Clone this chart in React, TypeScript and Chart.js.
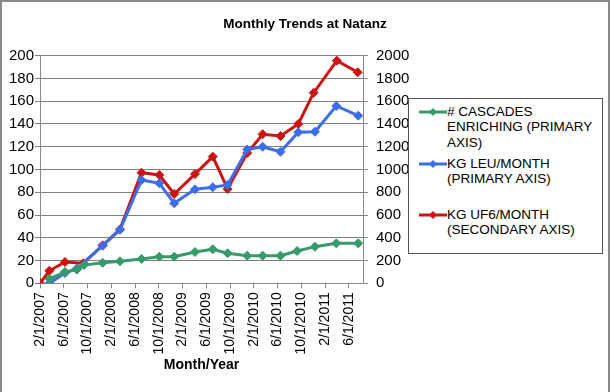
import React, { useEffect, useRef } from 'react';
import { Chart, registerables } from 'chart.js';

Chart.register(...registerables);

// Months elapsed since 2/1/2007
const tickMonths = [0, 4, 8, 12, 16, 20, 24, 28, 32, 36, 40, 44, 48, 52];

const cascadeMonths = [1.6, 4.2, 6.2, 7.4, 10.55, 13.47, 17.1, 20.1, 22.6, 26.1, 29.1, 31.6, 34.9, 37.5, 40.5, 43.3, 46.3, 49.9, 53.6];
const cascadeValues = [4, 10, 12, 16, 18, 19.3, 21.4, 23.4, 23.4, 27.5, 29.9, 26.4, 24.2, 24.3, 24.3, 28.4, 32.2, 35.1, 35.1];

const leuMonths = [1.6, 4.2, 6.2, 10.55, 13.47, 17.1, 20.1, 22.6, 26.1, 29.1, 31.6, 34.9, 37.5, 40.5, 43.5, 46.3, 49.9, 53.6];
const leuValues = [0, 9, 13, 33, 47, 90.8, 87.9, 70.3, 82.6, 84.4, 86.4, 117.6, 120, 115.6, 132.7, 133.2, 155.8, 147.3];

const uf6Months = [0, 1.57, 4.21, 7.29, 10.55, 13.47, 17.1, 20.1, 22.6, 26.1, 29.1, 31.6, 34.9, 37.5, 40.5, 43.5, 46.1, 50, 53.5];
const uf6Values = [0, 110, 187, 176, 334, 474, 972, 952, 785, 960, 1113, 829, 1145, 1310, 1294, 1400, 1675, 1956, 1854];

const seriesNames = ['# CASCADES ENRICHING (PRIMARY AXIS)', 'KG LEU/MONTH (PRIMARY AXIS)', 'KG UF6/MONTH (SECONDARY AXIS)'];
const legendLines = [
  ['# CASCADES', 'ENRICHING (PRIMARY', 'AXIS)'],
  ['KG LEU/MONTH', '(PRIMARY AXIS)'],
  ['KG UF6/MONTH', '(SECONDARY AXIS)'],
];
const colors = ['#379a6a', '#3d6ee8', '#cc1414'];

const FONT = 'Liberation Sans, Arial, Helvetica, sans-serif';

function fmtMonth(m: number): string {
  const total = 1 + Math.round(m);
  const month = (total % 12) + 1;
  const year = 2007 + Math.floor(total / 12);
  return `${month}/1/${year}`;
}

function pts(xs: number[], ys: number[]) {
  return xs.map((x, i) => ({ x, y: ys[i] }));
}

function LegendSample({ color }: { color: string }) {
  return (
    <svg width="28" height="10" style={{ position: 'absolute', left: 10, top: 3 }}>
      <line x1="0" y1="5" x2="28" y2="5" stroke={color} strokeWidth="3" />
      <polygon points="14,1 18,5 14,9 10,5" fill={color} />
    </svg>
  );
}

export default function App() {
  const ref = useRef<HTMLCanvasElement | null>(null);

  useEffect(() => {
    if (!ref.current) return;
    const mk = (i: number, data: { x: number; y: number }[], axis: string) => ({
      label: seriesNames[i],
      data,
      yAxisID: axis,
      borderColor: colors[i],
      backgroundColor: colors[i],
      borderWidth: 3,
      pointStyle: 'rectRot' as const,
      pointRadius: 4.5,
      pointBorderWidth: 1,
      pointBackgroundColor: colors[i],
      pointBorderColor: colors[i],
      tension: 0,
    });
    const chart = new Chart(ref.current, {
      type: 'line',
      data: {
        datasets: [
          mk(0, pts(cascadeMonths, cascadeValues), 'y'),
          mk(1, pts(leuMonths, leuValues), 'y'),
          mk(2, pts(uf6Months, uf6Values), 'y2'),
        ],
      },
      options: {
        animation: false,
        responsive: false,
        maintainAspectRatio: false,
        layout: { padding: 0 },
        plugins: {
          legend: { display: false },
          tooltip: { enabled: false },
          title: {
            display: true,
            text: 'Monthly Trends at Natanz',
            color: '#000',
            font: { family: FONT, size: 13.5, weight: 'bold' },
            padding: { top: 16.5, bottom: 23 },
          },
        },
        scales: {
          x: {
            type: 'linear',
            min: 0,
            max: 54.4,
            afterBuildTicks: (s: any) => {
              s.ticks = tickMonths.map((v) => ({ value: v }));
            },
            afterFit: (s: any) => {
              s.height = 108.7;
            },
            ticks: {
              autoSkip: false,
              minRotation: 90,
              maxRotation: 90,
              padding: 4,
              color: '#000',
              font: { family: FONT, size: 14 },
              callback: (v: any) => fmtMonth(Number(v)),
            },
            grid: { drawOnChartArea: false, tickLength: 5, color: '#888' },
            border: { color: '#888' },
            title: {
              display: true,
              text: 'Month/Year',
              color: '#000',
              font: { family: FONT, size: 14, weight: 'bold' },
              padding: { top: 0, bottom: 18.6 },
            },
          },
          y: {
            position: 'left',
            min: 0,
            max: 200,
            ticks: { stepSize: 20, padding: 1, color: '#000', font: { family: FONT, size: 15 } },
            grid: { color: '#808080', tickLength: 5 },
            border: { color: '#888' },
            afterFit: (s: any) => {
              s.width = 40;
            },
          },
          y2: {
            position: 'right',
            min: 0,
            max: 2000,
            ticks: {
              stepSize: 200,
              padding: 8,
              color: '#000',
              font: { family: FONT, size: 15 },
              callback: (v: any) => String(v),
            },
            grid: { drawOnChartArea: false, color: '#888', tickLength: 5 },
            border: { color: '#888' },
            afterFit: (s: any) => {
              s.width = 247;
            },
          },
        },
      },
    } as any);
    return () => chart.destroy();
  }, []);

  const blockTops = [4.5, 56.5, 107.5];

  return (
    <div style={{ position: 'fixed', left: 0, top: 0, width: 610, height: 392, background: '#fff' }}>
      <canvas ref={ref} width={610} height={392} style={{ position: 'absolute', left: 0, top: 0 }} />
      <div
        style={{
          position: 'absolute',
          left: 408,
          top: 98,
          width: 195,
          height: 156,
          border: '1px solid #555',
          boxSizing: 'border-box',
          background: '#fff',
          fontFamily: FONT,
          fontSize: 13.5,
          color: '#000',
        }}
      >
        {legendLines.map((lines, i) => (
          <div key={i} style={{ position: 'absolute', left: 0, top: blockTops[i], width: 190, height: 48 }}>
            <LegendSample color={colors[i]} />
            <div style={{ position: 'absolute', left: 38, top: 0, lineHeight: '15.5px', whiteSpace: 'nowrap' }}>
              {lines.map((t, j) => (
                <div key={j}>{t}</div>
              ))}
            </div>
          </div>
        ))}
      </div>
      <div
        style={{
          position: 'absolute',
          left: 0,
          top: 0,
          width: 610,
          height: 392,
          borderTop: '2px solid #8a8a8a',
          borderLeft: '2px solid #8a8a8a',
          borderRight: '2px solid #8a8a8a',
          boxSizing: 'border-box',
          pointerEvents: 'none',
        }}
      />
    </div>
  );
}
